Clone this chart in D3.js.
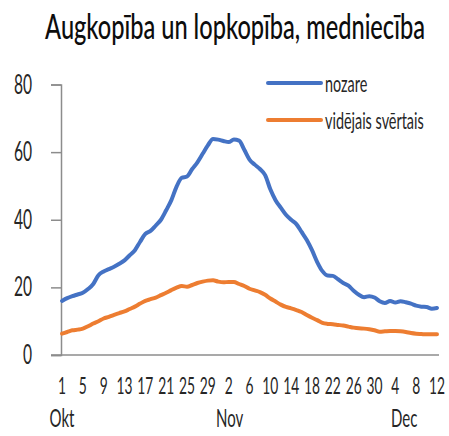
<!DOCTYPE html>
<html>
<head>
<meta charset="utf-8">
<script src="https://cdn.jsdelivr.net/npm/d3@7"></script>
<style>
  html, body { margin: 0; padding: 0; background: #fff; }
  svg text { font-family: Lato, "Open Sans", sans-serif; fill: #262626; }
</style>
</head>
<body>
<svg id="chart" width="449" height="436"></svg>
<script>
// Months shown on the category axis and how many days of each are plotted
const months = ["Okt", "Nov", "Dec"];
const monthDays = [31, 30, 12];
// Category index at which each month name is written
const monthLabelAt = [0, 32.2, 65.7];

// Sector index ("nozare") and weighted average ("vidējais svērtais"), one value per day
const nozare = [
  16.0, 16.8, 17.4, 17.9, 18.4, 19.5, 21.0, 23.6, 24.7, 25.4,
  26.1, 27.0, 28.0, 29.5, 31.0, 33.5, 35.8, 36.7, 38.3, 40.0,
  42.8, 45.8, 49.8, 52.4, 52.8, 55.0, 57.0, 59.5, 62.0, 63.9,
  63.7, 63.3, 63.0, 63.7, 63.4, 60.7, 57.8, 56.3, 55.0, 53.2,
  49.0, 45.8, 43.6, 41.5, 40.0, 38.7, 36.4, 34.0, 31.0, 27.5,
  24.8, 23.5, 23.4, 22.4, 21.3, 20.5, 19.0, 17.8, 17.1, 17.4,
  17.0, 15.9, 15.4, 16.0, 15.5, 15.9, 15.6, 15.2, 14.6, 14.3,
  14.2, 13.7, 13.9
];
const videjais = [
  6.3, 6.8, 7.3, 7.5, 7.8, 8.5, 9.3, 10.0, 10.8, 11.3,
  11.9, 12.4, 12.9, 13.6, 14.3, 15.2, 16.0, 16.5, 17.0, 17.7,
  18.4, 19.2, 19.9, 20.4, 20.2, 20.7, 21.3, 21.7, 22.0, 22.1,
  21.7, 21.5, 21.6, 21.6, 21.0, 20.4, 19.6, 19.1, 18.6, 17.8,
  16.7, 15.8, 14.9, 14.2, 13.8, 13.3, 12.7, 11.8, 11.0, 10.3,
  9.5, 9.2, 9.1, 8.9, 8.7, 8.4, 8.1, 7.9, 7.8, 7.6,
  7.3, 6.9, 7.0, 7.1, 7.1, 7.0, 6.8, 6.5, 6.3, 6.2,
  6.1, 6.1, 6.1
];
const yTicks = [0, 20, 40, 60, 80];
const seriesNames = ["nozare", "vidējais svērtais"];
const colors = ["#4472C4", "#ED7D31"];

// Day-of-month category labels, built from the month lengths
const categories = [];
monthDays.forEach((n, m) => { for (let d = 1; d <= n; d++) categories.push({ month: m, day: d }); });
const labelStep = 4;

const svg = d3.select("#chart");
const x = d3.scaleLinear().domain([0, categories.length - 1]).range([62, 437]);
const y = d3.scaleLinear().domain([0, 80]).range([355, 84.5]);
const axisColor = "#8c8c8c";
const narrow = 0.6; // horizontal squeeze giving a tall condensed face

// Writes a horizontally condensed text anchored at (px, py)
function label(parent, px, py, str, size, anchor, sx) {
  return parent.append("text")
    .attr("transform", `translate(${px},${py}) scale(${sx || narrow},1)`)
    .attr("text-anchor", anchor || "start")
    .style("font-size", size + "px")
    .text(str);
}

// Title, squeezed to its set width
const title = label(svg, 235, 39, "Augkopība un lopkopība, medniecība", 34, "middle", 1)
  .style("fill", "#0d0d0d").style("font-weight", 500);
const titleW = title.node().getComputedTextLength();
title.attr("transform", `translate(235,39) scale(${380 / titleW},1)`);

// Y axis
const yAxis = svg.append("g").attr("transform", "translate(61,0)")
  .call(d3.axisLeft(y).tickValues(yTicks).tickSize(10).tickFormat(""));
yAxis.select(".domain").attr("stroke", axisColor).attr("stroke-width", 1.5);
yAxis.selectAll(".tick line").attr("stroke", axisColor).attr("stroke-width", 1.5);
const yLabels = svg.append("g");
yTicks.forEach(t => label(yLabels, 32, y(t) + 9, d3.format("d")(t), 26, "end"));

// X axis baseline
svg.append("line")
  .attr("x1", 51).attr("x2", 439).attr("y1", y(0)).attr("y2", y(0))
  .attr("stroke", axisColor).attr("stroke-width", 1.5);

// Day labels
const dayLabels = svg.append("g");
categories.forEach((c, i) => {
  if (i % labelStep === 0) label(dayLabels, x(i), 394, String(c.day), 23, "middle");
});

// Month labels
const monthLabels = svg.append("g");
months.forEach((m, i) => label(monthLabels, x(monthLabelAt[i]), 427, m, 25, "middle"));

// Series lines
const line = d3.line().x((d, i) => x(i)).y(d => y(d)).curve(d3.curveMonotoneX);
[nozare, videjais].forEach((s, k) => {
  svg.append("path")
    .datum(s)
    .attr("fill", "none")
    .attr("stroke", colors[k])
    .attr("stroke-width", 4)
    .attr("stroke-linejoin", "round")
    .attr("stroke-linecap", "round")
    .attr("d", line);
});

// Legend
const legend = svg.append("g");
seriesNames.forEach((name, k) => {
  const ly = 83 + k * 37;
  legend.append("line")
    .attr("x1", 268).attr("x2", 321).attr("y1", ly).attr("y2", ly)
    .attr("stroke", colors[k]).attr("stroke-width", 4).attr("stroke-linecap", "round");
  label(legend, 325, ly + 8.5, name, 24, "start");
});
</script>
</body>
</html>
